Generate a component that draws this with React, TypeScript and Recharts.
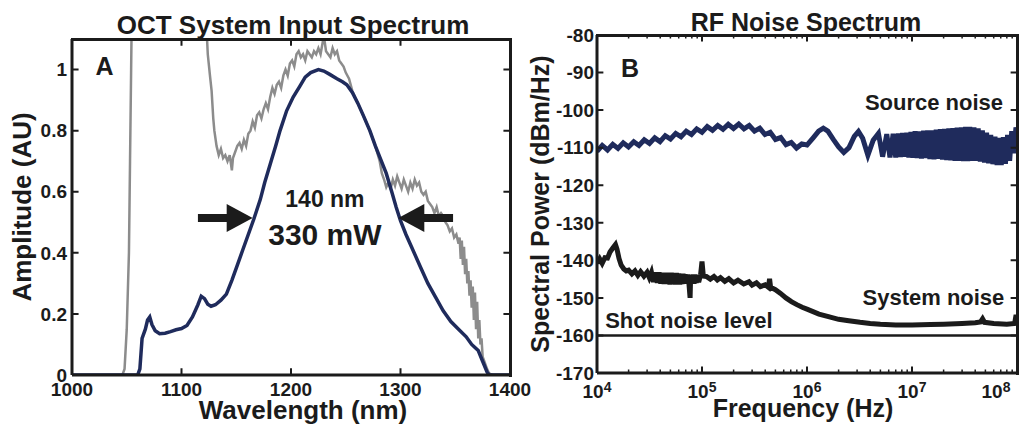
import React from 'react';
import { LineChart, Line, XAxis, YAxis, ReferenceLine, ReferenceDot } from 'recharts';

const FONT = '"Liberation Sans", Arial, Helvetica, sans-serif';
const INK = '#1b1b1b';
const NAVY = '#1f2b5c';
const GRAY = '#8c8c8c';

// ---------- Panel A: OCT System Input Spectrum ----------
const wavelengthDomain: [number, number] = [1000, 1400];
const amplitudeDomain: [number, number] = [0, 1.1];
const wavelengthTicks = [1000, 1100, 1200, 1300, 1400];
const amplitudeTicks = [0, 0.2, 0.4, 0.6, 0.8, 1];

// [wavelength nm, amplitude AU]
const systemSpectrum: [number, number][] = [
  [1000, 0], [1060, 0], [1062, 0.02], [1064, 0.12], [1067, 0.15], [1069, 0.18], [1071, 0.19],
  [1073, 0.165], [1076, 0.145], [1080, 0.135], [1085, 0.137], [1090, 0.142], [1095, 0.148],
  [1100, 0.152], [1105, 0.162], [1110, 0.19], [1115, 0.23], [1118, 0.258], [1121, 0.25],
  [1124, 0.232], [1127, 0.225], [1131, 0.23], [1136, 0.245], [1141, 0.265], [1146, 0.31],
  [1151, 0.36], [1156, 0.41], [1161, 0.46], [1166, 0.51], [1172, 0.575], [1176, 0.63],
  [1181, 0.69], [1186, 0.75], [1190, 0.8], [1196, 0.865], [1202, 0.91], [1208, 0.945],
  [1213, 0.975], [1218, 0.99], [1225, 1.0], [1230, 0.995], [1235, 0.985], [1242, 0.97],
  [1247, 0.96], [1251, 0.95], [1256, 0.925], [1261, 0.89], [1266, 0.85], [1272, 0.8],
  [1277, 0.75], [1282, 0.705], [1287, 0.66], [1292, 0.6], [1296, 0.55], [1300, 0.505],
  [1305, 0.46], [1310, 0.42], [1318, 0.355], [1325, 0.3], [1332, 0.255], [1339, 0.21],
  [1346, 0.175], [1353, 0.15], [1360, 0.125], [1365, 0.1], [1368, 0.09], [1371, 0.08],
  [1375, 0.045], [1379, 0.01], [1381, 0], [1400, 0],
];

const sourceSpectrum: [number, number][] = [
  [1000, 0], [1046, 0], [1048, 0.02], [1050, 0.15], [1052, 0.4], [1053, 0.7], [1054, 1.0],
  [1055, 1.3], [1056, 1.6], [1120, 1.6], [1122, 1.2], [1124, 1.05], [1126, 0.98], [1127.5, 0.93],
  [1129, 0.84], [1130, 0.8], [1132, 0.75], [1134, 0.72], [1136, 0.74], [1138, 0.71], [1140, 0.72],
  [1142, 0.7], [1144, 0.72], [1146, 0.67], [1147, 0.71], [1149, 0.73], [1151, 0.75], [1153, 0.76],
  [1155, 0.74], [1157, 0.77], [1159, 0.75], [1161, 0.79], [1163, 0.8], [1165, 0.83], [1167, 0.81],
  [1169, 0.85], [1171, 0.86], [1173, 0.84], [1175, 0.87], [1177, 0.89], [1179, 0.87], [1181, 0.91],
  [1183, 0.94], [1185, 0.92], [1187, 0.95], [1189, 0.96], [1191, 0.94], [1193, 0.98], [1195, 1.0],
  [1197, 0.98], [1199, 1.02], [1201, 1.03], [1203, 1.01], [1205, 1.05], [1207, 1.06], [1209, 1.04],
  [1211, 1.05], [1213, 1.03], [1215, 1.06], [1217, 1.05], [1219, 1.04], [1221, 1.06], [1223, 1.05],
  [1225, 1.07], [1227, 1.05], [1229, 1.09], [1230, 1.11], [1232, 1.06], [1234, 1.05], [1236, 1.04],
  [1238, 1.07], [1240, 1.05], [1242, 1.06], [1244, 1.03], [1246, 1.02], [1248, 1.01], [1250, 0.99],
  [1253, 0.97], [1256, 0.93], [1261, 0.89], [1266, 0.85], [1272, 0.8], [1277, 0.75], [1281, 0.7],
  [1283, 0.66], [1285, 0.64], [1287, 0.615], [1289, 0.63], [1291, 0.61], [1293, 0.64], [1295, 0.62],
  [1297, 0.65], [1299, 0.63], [1301, 0.61], [1303, 0.64], [1305, 0.62], [1307, 0.6], [1309, 0.63],
  [1311, 0.61], [1313, 0.64], [1315, 0.62], [1317, 0.63], [1319, 0.6], [1321, 0.59], [1323, 0.6],
  [1325, 0.57], [1327, 0.56], [1329, 0.55], [1331, 0.53], [1333, 0.55], [1335, 0.52], [1337, 0.53],
  [1339, 0.52], [1341, 0.5], [1343, 0.49], [1345, 0.47], [1347, 0.48], [1349, 0.45], [1351, 0.46],
  [1353, 0.43], [1354, 0.45], [1355, 0.38], [1356, 0.44], [1357, 0.36], [1358, 0.42], [1359, 0.33],
  [1360, 0.38], [1361, 0.3], [1362, 0.34], [1363, 0.26], [1364, 0.31], [1365, 0.22], [1366, 0.29],
  [1367, 0.18], [1368, 0.27], [1369, 0.15], [1370, 0.24], [1371, 0.12], [1372, 0.18], [1373, 0.1],
  [1374, 0.12], [1375, 0.06], [1377, 0.04], [1379, 0.02], [1381, 0.005], [1384, 0], [1400, 0],
];

const fwhmLevel = 0.514;
const fwhmLeft = 1165;
const fwhmRight = 1298;

// ---------- Panel B: RF Noise Spectrum ----------
const freqDomain: [number, number] = [1e4, 1e8];
const powerDomain: [number, number] = [-170, -80];
const freqTicks = [1e4, 1e5, 1e6, 1e7, 1e8];
const freqMinorTicks = [
  2e4, 3e4, 4e4, 5e4, 6e4, 7e4, 8e4, 9e4,
  2e5, 3e5, 4e5, 5e5, 6e5, 7e5, 8e5, 9e5,
  2e6, 3e6, 4e6, 5e6, 6e6, 7e6, 8e6, 9e6,
  2e7, 3e7, 4e7, 5e7, 6e7, 7e7, 8e7, 9e7,
];
const powerTicks = [-170, -160, -150, -140, -130, -120, -110, -100, -90, -80];

// [frequency Hz, dBm/Hz]
const sourceNoise: [number, number][] = [
  [1.0e4, -111.0], [1.122e4, -109.4], [1.259e4, -110.6], [1.413e4, -109.1], [1.585e4, -110.2],
  [1.778e4, -108.7], [1.995e4, -109.8], [2.239e4, -108.4], [2.512e4, -109.4], [2.818e4, -107.9],
  [3.162e4, -108.9], [3.548e4, -107.4], [3.981e4, -108.4], [4.467e4, -106.8], [5.012e4, -107.7],
  [5.623e4, -106.2], [6.310e4, -107.1], [7.079e4, -105.6], [7.943e4, -106.5], [8.913e4, -105.0],
  [1.0e5, -105.9], [1.122e5, -104.4], [1.259e5, -105.4], [1.413e5, -104.1], [1.585e5, -105.1],
  [1.778e5, -103.8], [1.995e5, -104.9], [2.239e5, -103.7], [2.512e5, -105.0], [2.818e5, -104.1],
  [3.162e5, -105.6], [3.548e5, -104.8], [3.981e5, -106.5], [4.467e5, -105.9], [5.012e5, -107.8],
  [5.623e5, -107.3], [6.310e5, -109.2], [7.079e5, -108.6], [7.943e5, -110.1], [8.913e5, -109.0],
  [1.0e6, -109.3], [1.15e6, -107.3], [1.29e6, -105.6],
  [1.43e6, -104.8], [1.58e6, -105.6], [1.78e6, -107.8], [2.0e6, -109.8], [2.24e6, -111.3],
  [2.51e6, -110.0], [2.82e6, -107.0], [3.09e6, -105.7], [3.39e6, -107.5], [3.8e6, -112.0],
  [4.27e6, -108.0], [4.79e6, -106.2], [5.25e6, -112.4], [5.75e6, -106.4], [6.17e6, -112.6],
  [6.61e6, -106.3], [7.0e6, -112.6], [7.41e6, -106.2], [7.76e6, -112.5], [8.13e6, -106.1],
  [8.51e6, -112.4], [8.91e6, -106.0], [9.33e6, -112.6], [9.77e6, -105.8], [1.02e7, -112.7],
  [1.07e7, -105.6], [1.12e7, -112.8], [1.17e7, -105.7], [1.23e7, -112.9], [1.29e7, -105.5],
  [1.35e7, -112.8], [1.41e7, -105.4], [1.48e7, -113.0], [1.55e7, -105.4], [1.62e7, -113.1],
  [1.70e7, -105.2], [1.78e7, -113.0], [1.86e7, -105.1], [1.95e7, -113.2], [2.04e7, -105.0],
  [2.14e7, -113.3], [2.24e7, -104.9], [2.34e7, -113.4], [2.45e7, -104.8], [2.57e7, -113.5],
  [2.69e7, -104.7], [2.82e7, -113.5], [2.95e7, -104.6], [3.09e7, -113.6], [3.24e7, -104.5],
  [3.39e7, -113.6], [3.55e7, -104.5], [3.72e7, -113.5], [3.89e7, -104.6], [4.07e7, -113.5],
  [4.27e7, -104.9], [4.47e7, -113.7], [4.68e7, -105.4], [4.90e7, -114.0], [5.13e7, -106.0],
  [5.37e7, -114.2], [5.62e7, -106.6], [5.89e7, -114.4], [6.17e7, -107.1], [6.46e7, -114.6],
  [6.76e7, -107.4], [7.08e7, -114.6], [7.41e7, -107.2], [7.76e7, -114.3], [8.13e7, -106.6],
  [8.51e7, -113.5], [8.91e7, -105.6], [9.33e7, -111.5], [9.77e7, -104.6], [1.0e8, -106.5],
];

const systemNoise: [number, number][] = [
  [1.0e4, -140.8], [1.06e4, -139.6], [1.12e4, -140.8], [1.19e4, -139.3], [1.26e4, -139.4],
  [1.33e4, -137.8], [1.41e4, -136.8], [1.5e4, -135.8], [1.55e4, -137.0], [1.62e4, -139.5],
  [1.7e4, -141.3], [1.8e4, -142.3], [1.9e4, -142.8], [2.0e4, -142.6], [2.15e4, -143.6],
  [2.3e4, -142.8], [2.45e4, -144.0], [2.6e4, -143.0], [2.8e4, -144.2], [3.0e4, -143.2],
  [3.15e4, -144.6], [3.3e4, -143.2], [3.45e4, -145.8], [3.6e4, -143.2], [3.75e4, -146.0],
  [3.9e4, -143.2], [4.05e4, -146.2], [4.2e4, -143.3], [4.35e4, -146.3], [4.5e4, -143.3],
  [4.65e4, -146.3], [4.8e4, -143.3], [4.95e4, -146.4], [5.1e4, -143.3], [5.25e4, -146.3],
  [5.4e4, -143.4], [5.55e4, -146.4], [5.7e4, -143.4], [5.85e4, -146.4], [6.0e4, -143.5],
  [6.15e4, -146.4], [6.3e4, -143.6], [6.45e4, -146.3], [6.6e4, -143.6], [6.75e4, -146.2],
  [6.9e4, -143.7], [7.1e4, -146.2], [7.3e4, -143.8], [7.5e4, -146.0], [7.7e4, -150.0],
  [7.8e4, -144.0], [8.0e4, -146.2], [8.2e4, -143.8], [8.4e4, -146.2], [8.6e4, -143.8],
  [8.8e4, -146.0], [9.0e4, -144.0], [9.3e4, -145.8], [9.7e4, -143.8], [1.0e5, -140.3],
  [1.03e5, -144.2], [1.1e5, -144.3], [1.2e5, -145.0], [1.3e5, -144.3], [1.4e5, -145.2],
  [1.5e5, -144.6], [1.65e5, -145.6], [1.8e5, -144.9], [2.0e5, -146.0], [2.2e5, -145.3],
  [2.5e5, -146.3], [2.8e5, -145.7], [3.0e5, -146.6], [3.3e5, -146.0], [3.6e5, -147.0],
  [4.0e5, -146.5], [4.3e5, -147.2], [4.4e5, -144.9], [4.5e5, -147.2], [5.0e5, -147.8],
  [5.6e5, -148.8], [6.3e5, -150.0], [7.1e5, -151.0], [8.0e5, -151.8], [9.0e5, -152.5],
  [1.0e6, -153.0], [1.3e6, -154.3], [1.6e6, -155.0], [2.0e6, -155.7], [2.5e6, -156.1],
  [3.2e6, -156.5], [4.0e6, -156.8], [5.0e6, -157.0], [7.0e6, -157.2], [1.0e7, -157.2],
  [1.5e7, -157.1], [2.0e7, -157.0], [3.0e7, -156.8], [4.0e7, -156.6], [4.5e7, -156.4],
  [4.7e7, -155.6], [4.9e7, -156.5], [6.0e7, -156.8], [8.0e7, -157.0], [9.5e7, -156.8],
  [9.8e7, -154.5], [1.0e8, -156.0],
];

const shotNoiseLevel = -160;

// ---------- helpers ----------
type Pt = { x: number; y: number | null };
const toXY = (arr: [number, number][]): Pt[] => arr.map(([x, y]) => ({ x, y }));

const tickStyle = { fill: INK, fontSize: 19, fontWeight: 700, fontFamily: FONT };
const axisTitleStyle = (size: number) => ({
  fill: INK, fontSize: size, fontWeight: 700, fontFamily: FONT, textAnchor: 'middle' as const,
});
const annot = (size: number) => ({ fill: INK, fontSize: size, fontWeight: 700, fontFamily: FONT });

const frameLine = { stroke: INK, strokeWidth: 3 };

const ArrowHead = (dir: number) => (p: any) => {
  const { cx, cy } = p;
  const L = 26;
  const H = 14;
  return (
    <polygon
      points={`${cx},${cy} ${cx - dir * L},${cy - H} ${cx - dir * L},${cy + H}`}
      fill={INK}
    />
  );
};

const PowerTick = (props: any) => {
  const { x, y, payload } = props;
  const exp = Math.round(Math.log10(payload.value));
  return (
    <text x={x} y={y} textAnchor="middle" fill={INK} fontSize={19} fontWeight={700} fontFamily={FONT}>
      <tspan dy={13}>10</tspan>
      <tspan dy={-6} fontSize={14}>{exp}</tspan>
    </text>
  );
};

const titleStyle = (left: number, top: number, size: number): React.CSSProperties => ({
  position: 'absolute', left, top, width: 400, textAlign: 'center', fontSize: size,
  lineHeight: `${size}px`, fontWeight: 700, color: INK, fontFamily: FONT, whiteSpace: 'nowrap',
});

// top/right edges of the plot box (box decoration only)
const boxStyle = (left: number, top: number, width: number, height: number): React.CSSProperties => ({
  position: 'absolute', left, top, width, height, boxSizing: 'border-box',
  borderTop: `3px solid ${INK}`, borderRight: `3px solid ${INK}`, pointerEvents: 'none',
});

// short tick segments separated by gaps (null) so one series draws them all
const tickPath = (pairs: [Pt, Pt][]): Pt[] =>
  pairs.flatMap(([a, b]) => [a, b, { x: b.x, y: null }]);

const frameProps = { type: 'linear' as const, stroke: INK, dot: false, activeDot: false, isAnimationActive: false, connectNulls: false };

export default function App() {
  const blue = toXY(systemSpectrum);
  const gray = toXY(sourceSpectrum);
  const src = toXY(sourceNoise);
  const sys = toXY(systemNoise);

  const [wl0, wl1] = wavelengthDomain;
  const [a0, a1] = amplitudeDomain;
  const aLen = 0.022;
  const wLen = 6;
  const ticksA = tickPath([
    ...wavelengthTicks.slice(1, -1).flatMap((w): [Pt, Pt][] => [
      [{ x: w, y: a0 }, { x: w, y: a0 + aLen }],
      [{ x: w, y: a1 }, { x: w, y: a1 - aLen }],
    ]),
    ...amplitudeTicks.slice(1).flatMap((v): [Pt, Pt][] => [
      [{ x: wl0, y: v }, { x: wl0 + wLen, y: v }],
      [{ x: wl1, y: v }, { x: wl1 - wLen, y: v }],
    ]),
  ]);

  const [f0, f1] = freqDomain;
  const [p0, p1] = powerDomain;
  const ticksB = tickPath([
    ...freqTicks.slice(1, -1).flatMap((f): [Pt, Pt][] => [
      [{ x: f, y: p0 }, { x: f, y: p0 + 1.7 }],
      [{ x: f, y: p1 }, { x: f, y: p1 - 1.7 }],
    ]),
    ...powerTicks.slice(1, -1).flatMap((v): [Pt, Pt][] => [
      [{ x: f0, y: v }, { x: f0 * 1.15, y: v }],
      [{ x: f1, y: v }, { x: f1 / 1.15, y: v }],
    ]),
  ]);
  const minorB = tickPath(
    freqMinorTicks.flatMap((f): [Pt, Pt][] => [
      [{ x: f, y: p0 }, { x: f, y: p0 + 0.9 }],
      [{ x: f, y: p1 }, { x: f, y: p1 - 0.9 }],
    ]),
  );

  return (
    <div style={{ position: 'absolute', left: 0, top: 0, width: 1032, height: 427, background: '#fff', fontFamily: FONT }}>
      <div style={titleStyle(93, 12, 26)}>OCT System Input Spectrum</div>
      <div style={titleStyle(606, 10, 25)}>RF Noise Spectrum</div>

      {/* Panel A */}
      <div style={{ position: 'absolute', left: 0, top: 0 }}>
        <LineChart width={545} height={427} margin={{ top: 39, right: 35, bottom: 22, left: 22 }}>
          <XAxis
            dataKey="x" type="number" domain={wavelengthDomain} allowDataOverflow ticks={wavelengthTicks}
            tick={tickStyle} tickLine={false} tickSize={0} tickMargin={8} axisLine={frameLine} height={30}
            label={{ value: 'Wavelength (nm)', position: 'insideBottom', offset: -14, dx: 12, style: axisTitleStyle(26) }}
          />
          <YAxis
            type="number" domain={amplitudeDomain} allowDataOverflow ticks={amplitudeTicks} width={50}
            tick={tickStyle} tickLine={false} tickSize={0} tickMargin={5} axisLine={frameLine}
            label={{ value: 'Amplitude (AU)', angle: -90, position: 'insideLeft', offset: 0, style: axisTitleStyle(26) }}
          />

          <Line data={gray} dataKey="y" type="linear" stroke={GRAY} strokeWidth={2.5} dot={false} isAnimationActive={false} />
          <Line data={blue} dataKey="y" type="linear" stroke={NAVY} strokeWidth={3.5} dot={false} isAnimationActive={false} />
          <Line data={ticksA} dataKey="y" strokeWidth={2} {...frameProps} />

          <ReferenceLine segment={[{ x: 1115, y: fwhmLevel }, { x: fwhmLeft - 20, y: fwhmLevel }]} stroke={INK} strokeWidth={8} />
          <ReferenceLine segment={[{ x: fwhmRight + 20, y: fwhmLevel }, { x: 1348, y: fwhmLevel }]} stroke={INK} strokeWidth={8} />
          <ReferenceDot x={fwhmLeft} y={fwhmLevel} r={0} shape={ArrowHead(1)} />
          <ReferenceDot x={fwhmRight} y={fwhmLevel} r={0} shape={ArrowHead(-1)} />

          <ReferenceDot x={1231} y={0.576} r={0} fill="none" stroke="none"
            label={{ value: '140 nm', position: 'center', style: annot(23) }} />
          <ReferenceDot x={1231} y={0.4615} r={0} fill="none" stroke="none"
            label={{ value: '330 mW', position: 'center', style: annot(30) }} />
          <ReferenceDot x={1029.7} y={1.01} r={0} fill="none" stroke="none"
            label={{ value: 'A', position: 'center', style: annot(25) }} />
        </LineChart>
      </div>
      <div style={boxStyle(70.5, 37.5, 441, 339)} />

      {/* Panel B */}
      <div style={{ position: 'absolute', left: 520, top: 0 }}>
        <LineChart width={512} height={427} margin={{ top: 35, right: 15, bottom: 24, left: 17 }}>
          <XAxis
            dataKey="x" type="number" scale="log" domain={freqDomain} allowDataOverflow ticks={freqTicks}
            tick={<PowerTick />} tickLine={false} tickSize={0} tickMargin={12} axisLine={frameLine} height={30}
            label={{ value: 'Frequency (Hz)', position: 'insideBottom', offset: -14, dx: -4, style: axisTitleStyle(25) }}
          />
          <YAxis
            type="number" domain={powerDomain} allowDataOverflow ticks={powerTicks} width={60}
            tick={tickStyle} tickLine={false} tickSize={0} tickMargin={3} axisLine={frameLine}
            label={{ value: 'Spectral Power (dBm/Hz)', angle: -90, position: 'insideLeft', offset: 3, style: axisTitleStyle(25) }}
          />

          <ReferenceLine y={shotNoiseLevel} stroke={INK} strokeWidth={2.5} />
          <Line data={src} dataKey="y" type="linear" stroke={NAVY} strokeWidth={5} dot={false} isAnimationActive={false} />
          <Line data={sys} dataKey="y" type="linear" stroke={INK} strokeWidth={5} dot={false} isAnimationActive={false} />
          <Line data={ticksB} dataKey="y" strokeWidth={2} {...frameProps} />
          <Line data={minorB} dataKey="y" strokeWidth={1.5} {...frameProps} />

          <ReferenceDot x={2.06e4} y={-88.8} r={0} fill="none" stroke="none"
            label={{ value: 'B', position: 'center', style: annot(25) }} />
          <ReferenceDot x={1.62e7} y={-97.8} r={0} fill="none" stroke="none"
            label={{ value: 'Source noise', position: 'center', style: annot(22) }} />
          <ReferenceDot x={1.6e7} y={-149.75} r={0} fill="none" stroke="none"
            label={{ value: 'System noise', position: 'center', style: annot(22) }} />
          <ReferenceDot x={7.5e4} y={-155.9} r={0} fill="none" stroke="none"
            label={{ value: 'Shot noise level', position: 'center', style: annot(22) }} />
        </LineChart>
      </div>
      <div style={boxStyle(595.5, 33.5, 423, 341)} />
    </div>
  );
}
